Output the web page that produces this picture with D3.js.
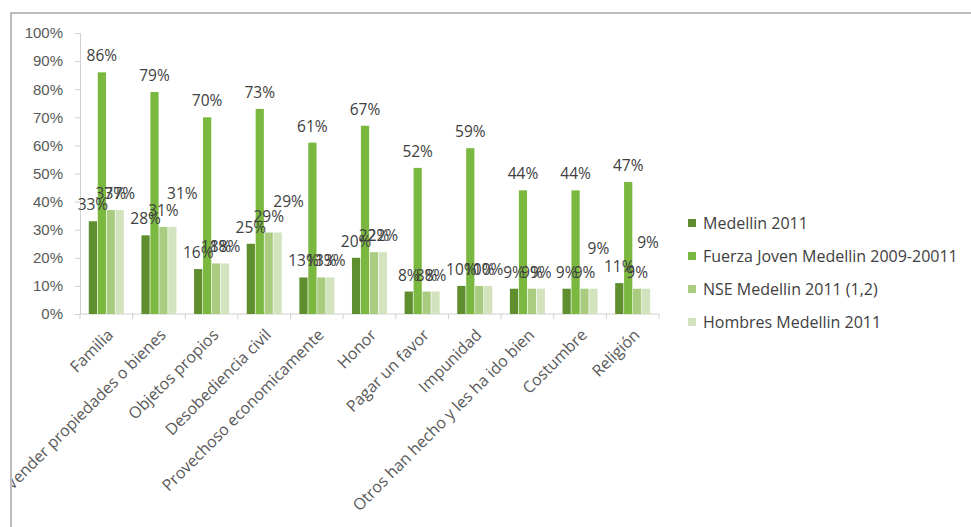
<!DOCTYPE html>
<html>
<head>
<meta charset="utf-8">
<script src="https://cdn.jsdelivr.net/npm/d3@7"></script>
<style>
  body { margin: 0; background: #fff; }
  svg { display: block; font-family: "Open Sans", Lato, sans-serif; }
</style>
</head>
<body>
<svg id="chart"></svg>
<script>
const categories = ["Familia", "Vender propiedades o bienes", "Objetos propios", "Desobediencia civil",
  "Provechoso economicamente", "Honor", "Pagar un favor", "Impunidad",
  "Otros han hecho y les ha ido bien", "Costumbre", "Religión"];
const seriesNames = ["Medellin 2011", "Fuerza Joven Medellin 2009-20011", "NSE Medellin 2011 (1,2)", "Hombres Medellin 2011"];
const medellin = [33, 28, 16, 25, 13, 20, 8, 10, 9, 9, 11];
const fuerzaJoven = [86, 79, 70, 73, 61, 67, 52, 59, 44, 44, 47];
const nse = [37, 31, 18, 29, 13, 22, 8, 10, 9, 9, 9];
const hombres = [37, 31, 18, 29, 13, 22, 8, 10, 9, 9, 9];
const yTicks = [0, 10, 20, 30, 40, 50, 60, 70, 80, 90, 100];

const colors = ["#5e8e2e", "#7ab83f", "#a9cc80", "#d3e3bd"];
const seriesValues = [medellin, fuerzaJoven, nse, hombres];

// labels that were dragged by hand in the original
const labelNudge = {
  "1-3": [10, -17],
  "3-3": [11, -15],
  "9-3": [5, -24],
  "10-3": [2, -30]
};

const width = 971, height = 527;
const margin = {top: 33, left: 80};
const plotW = 579, plotH = 281;

const svg = d3.select("#chart").attr("width", width).attr("height", height);

svg.append("clipPath").attr("id", "frame")
  .append("rect").attr("x", 12).attr("y", 14).attr("width", width).attr("height", height);

// frame (only left and top edges are inside the picture)
svg.append("path")
  .attr("d", `M11,${height} V13 H${width}`)
  .attr("fill", "none")
  .attr("stroke", "#a6a6a6")
  .attr("stroke-width", 1.5);

const g = svg.append("g").attr("clip-path", "url(#frame)");
const chart = g.append("g").attr("transform", `translate(${margin.left},${margin.top})`);

const x = d3.scaleBand().domain(categories).range([0, plotW]);
const x1 = d3.scaleBand().domain(d3.range(4)).range([8.8, x.bandwidth() - 8.8]).paddingInner(0.08);
const y = d3.scaleLinear().domain([0, 100]).range([plotH, 0]);

const rows = categories.map((c, i) => ({cat: c, i: i, vals: seriesValues.map(s => s[i])}));

// y axis
const yAxis = d3.axisLeft(y).tickValues(yTicks).tickFormat(d => d + "%").tickSize(5).tickPadding(12);
const yG = chart.append("g").call(yAxis);
yG.select(".domain").attr("stroke", "#d0d0d0");
yG.selectAll(".tick line").attr("stroke", "#d0d0d0");
yG.selectAll(".tick text").attr("fill", "#595959").style("font-size", "15px").attr("font-family", null);

// x axis line + ticks at band edges
const xG = chart.append("g").attr("transform", `translate(0,${plotH})`);
xG.append("line").attr("x1", 0).attr("x2", plotW).attr("stroke", "#d0d0d0");
xG.selectAll("line.tk")
  .data(categories.map(c => x(c)).concat([plotW]))
  .enter().append("line").attr("class", "tk")
  .attr("x1", d => d).attr("x2", d => d).attr("y1", 0).attr("y2", 5)
  .attr("stroke", "#d0d0d0");

xG.selectAll("text.cat")
  .data(categories)
  .enter().append("text").attr("class", "cat")
  .attr("transform", d => `translate(${x(d) + x.bandwidth() / 2 + 4},${18}) rotate(-45)`)
  .attr("text-anchor", "end")
  .attr("dy", "0.35em")
  .attr("fill", "#595959")
  .style("font-size", "16px")
  .text(d => d);

// bars
const groups = chart.selectAll("g.grp")
  .data(rows)
  .enter().append("g").attr("class", "grp")
  .attr("transform", d => `translate(${x(d.cat)},0)`);

groups.selectAll("rect")
  .data(d => d.vals.map((v, k) => ({v: v, k: k})))
  .enter().append("rect")
  .attr("x", d => x1(d.k))
  .attr("width", x1.bandwidth())
  .attr("y", d => y(d.v))
  .attr("height", d => plotH - y(d.v))
  .attr("fill", d => colors[d.k]);

// data labels
groups.each(function(row) {
  d3.select(this).selectAll("text.lbl")
    .data(row.vals.map((v, k) => ({v: v, k: k, key: row.i + "-" + k})))
    .enter().append("text").attr("class", "lbl")
    .attr("x", d => x1(d.k) + x1.bandwidth() / 2 + (labelNudge[d.key] ? labelNudge[d.key][0] : 0))
    .attr("y", d => y(d.v) - 11 + (labelNudge[d.key] ? labelNudge[d.key][1] : 0))
    .attr("text-anchor", "middle")
    .attr("fill", "#404040")
    .style("font-size", "15.5px")
    .text(d => d.v + "%");
});

// legend
const legend = svg.append("g").attr("transform", "translate(688,223)");
const items = legend.selectAll("g")
  .data(seriesNames)
  .enter().append("g")
  .attr("transform", (d, i) => `translate(0,${i * 33})`);
items.append("rect").attr("x", 0).attr("y", -4).attr("width", 8).attr("height", 8)
  .attr("fill", (d, i) => colors[i]);
items.append("text").attr("x", 15).attr("dy", "0.35em")
  .attr("fill", "#404040")
  .style("font-size", "16px")
  .text(d => d);
</script>
</body>
</html>
